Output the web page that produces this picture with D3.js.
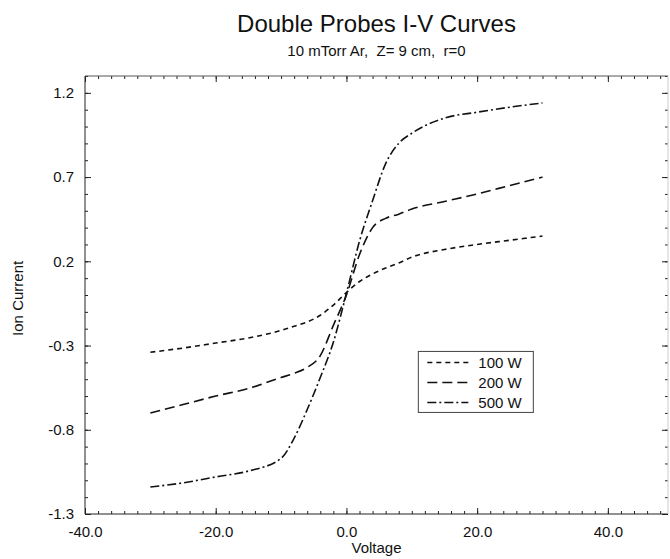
<!DOCTYPE html>
<html>
<head>
<meta charset="utf-8">
<script src="https://cdn.jsdelivr.net/npm/d3@7"></script>
<style>
	body { margin: 0; background: #fff; }
	svg text { font-family: "Liberation Sans", Arial, Helvetica, sans-serif; fill: #111; }
	.axis path.domain { display: none; }
	.axis line { stroke: #222; stroke-width: 1; }
	.curve { fill: none; stroke: #111; stroke-width: 1.6; }
</style>
</head>
<body>
<div id="graphic"></div>
<script>
// =========================================
// double probe I-V curves, three RF powers
// =========================================

var voltage = [-30, -25, -20, -15, -10, -8, -6, -4, -2, 0, 2, 4, 6, 8, 10, 15, 20, 25, 30];

var current100 = [-0.34, -0.315, -0.285, -0.255, -0.21, -0.185, -0.16, -0.12, -0.06, 0.015,
	0.08, 0.125, 0.16, 0.19, 0.225, 0.27, 0.30, 0.325, 0.35];
var current200 = [-0.70, -0.65, -0.60, -0.555, -0.49, -0.465, -0.43, -0.36, -0.18, 0.0,
	0.24, 0.40, 0.455, 0.48, 0.51, 0.555, 0.60, 0.65, 0.70];
var current500 = [-1.14, -1.115, -1.08, -1.045, -0.97, -0.85, -0.68, -0.49, -0.28, 0.01,
	0.32, 0.56, 0.78, 0.90, 0.96, 1.05, 1.085, 1.115, 1.14];

var seriesNames = ['100 W', '200 W', '500 W'];

var xTickLabels = [-40, -20, 0, 20, 40];
var yTickLabels = [-1.3, -0.8, -0.3, 0.2, 0.7, 1.2];

renderGraphic({
	container: 'graphic-0',
	width: 670,
	height: 559
});

function renderGraphic(config) {

	var width = config.width,
		height = config.height;

	var margins = {
		top: 76,
		right: 2,
		bottom: 45,
		left: 85
	};

	var chartWidth = width - (margins.left + margins.right);
	var chartHeight = height - (margins.top + margins.bottom);

	var containerElement = d3.select('#graphic');
	containerElement.html('');

	var svg = containerElement.append('svg')
		.attr('width', width)
		.attr('height', height);

	var chartElement = svg.append('g')
		.attr('transform', 'translate(' + margins.left + ',' + margins.top + ')');

	var x = d3.scaleLinear()
			.domain([-40, 49.2])
			.range([0, chartWidth]),
		y = d3.scaleLinear()
			.domain([-1.3, 1.3])
			.range([chartHeight, 0]);

	var dashes = ['5,4', '10,5', '9,3,2,3'];
	var series = [current100, current200, current500].map(function(vals, i) {
		return {
			name: seriesNames[i],
			dash: dashes[i],
			values: voltage.map(function(v, j) { return {v: v, c: vals[j]}; })
		};
	});

	// 1. titles
	svg.append('text')
		.attr('x', margins.left + chartWidth / 2)
		.attr('y', 32)
		.attr('text-anchor', 'middle')
		.style('font-size', '24px')
		.text('Double Probes I-V Curves');

	svg.append('text')
		.attr('x', margins.left + chartWidth / 2)
		.attr('y', 56)
		.attr('text-anchor', 'middle')
		.style('font-size', '15px')
		.style('white-space', 'pre')
		.text('10 mTorr Ar,  Z= 9 cm,  r=0');

	// 2. frame + ticks (all inward)
	var minorX = d3.range(-40, 49, 2),
		minorY = d3.range(-13, 14).map(function(d) { return d / 10; });

	chartElement.append('g').attr('class', 'axis')
		.attr('transform', 'translate(0,' + chartHeight + ')')
		.call(d3.axisBottom(x).tickValues(minorX).tickSize(-3).tickFormat(''));
	chartElement.append('g').attr('class', 'axis')
		.call(d3.axisTop(x).tickValues(minorX).tickSize(-3).tickFormat(''));
	chartElement.append('g').attr('class', 'axis')
		.call(d3.axisLeft(y).tickValues(minorY).tickSize(-3).tickFormat(''));
	chartElement.append('g').attr('class', 'axis')
		.attr('transform', 'translate(' + chartWidth + ',0)')
		.call(d3.axisRight(y).tickValues(minorY).tickSize(-3).tickFormat(''));

	var xAxis = chartElement.append('g').attr('class', 'axis axis-x')
		.attr('transform', 'translate(0,' + chartHeight + ')')
		.call(d3.axisBottom(x)
			.tickValues(xTickLabels)
			.tickSize(-6)
			.tickPadding(12)
			.tickFormat(function(d) { return d.toFixed(1); }));
	xAxis.selectAll('text').style('font-size', '15px');

	chartElement.append('g').attr('class', 'axis')
		.call(d3.axisTop(x).tickValues(xTickLabels).tickSize(-6).tickFormat(''));

	var yAxis = chartElement.append('g').attr('class', 'axis axis-y')
		.call(d3.axisLeft(y)
			.tickValues(yTickLabels)
			.tickSize(-6)
			.tickPadding(11)
			.tickFormat(function(d) { return d.toFixed(1); }));
	yAxis.selectAll('text').style('font-size', '15px');

	chartElement.append('g').attr('class', 'axis')
		.attr('transform', 'translate(' + chartWidth + ',0)')
		.call(d3.axisRight(y).tickValues(yTickLabels).tickSize(-6).tickFormat(''));

	chartElement.append('line')
		.attr('x1', 0).attr('x2', 0).attr('y1', 0).attr('y2', chartHeight)
		.style('stroke', '#222');
	chartElement.append('line')
		.attr('x1', 0).attr('x2', chartWidth).attr('y1', chartHeight).attr('y2', chartHeight)
		.style('stroke', '#222');
	chartElement.append('line')
		.attr('x1', 0).attr('x2', chartWidth).attr('y1', 0).attr('y2', 0)
		.style('stroke', '#555');
	chartElement.append('line')
		.attr('x1', chartWidth).attr('x2', chartWidth).attr('y1', 0).attr('y2', chartHeight)
		.style('stroke', '#ccc');

	// axis titles
	svg.append('text')
		.attr('x', margins.left + chartWidth / 2)
		.attr('y', 553)
		.attr('text-anchor', 'middle')
		.style('font-size', '15px')
		.text('Voltage');

	svg.append('text')
		.attr('transform', 'translate(23,' + (margins.top + y(-0.02)) + ') rotate(-90)')
		.attr('text-anchor', 'middle')
		.style('font-size', '15px')
		.text('Ion Current');

	// 3. curves
	var line = d3.line()
		.x(function(d) { return x(d.v); })
		.y(function(d) { return y(d.c); })
		.curve(d3.curveMonotoneX);

	chartElement.append('g').attr('class', 'curves')
		.selectAll('path')
		.data(series).enter()
		.append('path')
		.attr('class', 'curve')
		.style('stroke-dasharray', function(d) { return d.dash; })
		.attr('d', function(d) { return line(d.values); });

	// 4. legend
	var legend = chartElement.append('g')
		.attr('class', 'legend')
		.attr('transform', 'translate(' + x(11) + ',' + y(-0.335) + ')');

	legend.append('rect')
		.attr('width', 115)
		.attr('height', 61)
		.style('fill', '#fff')
		.style('stroke', '#444')
		.style('stroke-width', 1);

	var items = legend.selectAll('g.item')
		.data(series).enter()
		.append('g')
		.attr('class', 'item')
		.attr('transform', function(d, i) { return 'translate(0,' + (11 + i * 20) + ')'; });

	items.append('line')
		.attr('class', 'curve')
		.attr('x1', 9).attr('x2', 50)
		.style('stroke-dasharray', function(d) { return d.dash; });

	items.append('text')
		.attr('x', 60)
		.attr('dy', '0.36em')
		.style('font-size', '15px')
		.text(function(d) { return d.name; });

} // end of renderGraphic()
</script>
</body>
</html>
